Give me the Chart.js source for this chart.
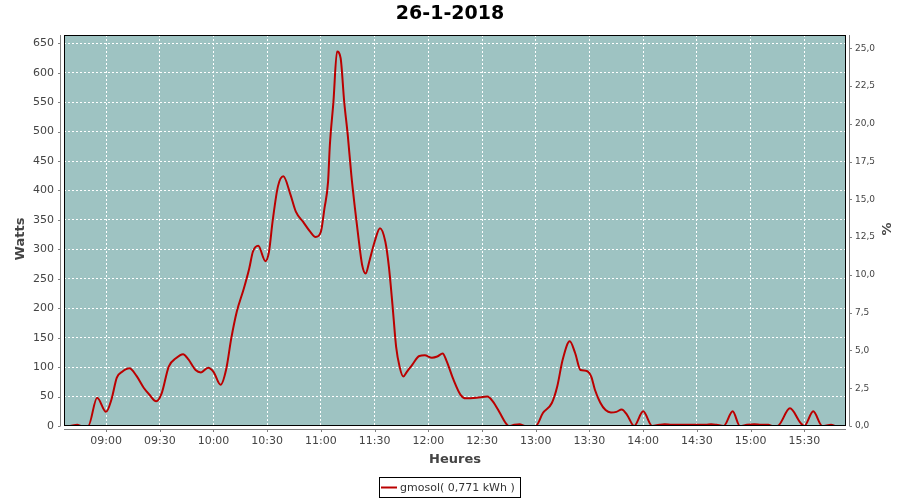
<!DOCTYPE html>
<html><head><meta charset="utf-8">
<script src="https://cdn.jsdelivr.net/npm/chart.js@4/dist/chart.umd.min.js"></script>
<style>html,body{margin:0;padding:0;background:#fff}#wrap{width:900px;height:500px}</style>
</head><body><div id="wrap"><canvas id="c" width="900" height="500"></canvas></div>
<script>
const chartTitle = '26-1-2018';
const xTitle = 'Heures';
const yTitle = 'Watts';
const y2Title = '%';
const seriesLabel = 'gmosol( 0,771 kWh )';

const times = ['08:40','08:44','08:46','08:50','08:55','09:00','09:03','09:06','09:09','09:13','09:17','09:21','09:24','09:28','09:31','09:35','09:39','09:43','09:46','09:50','09:53','09:57','10:00','10:04','10:07','10:10','10:13','10:17','10:20','10:22','10:25','10:29','10:31','10:33','10:36','10:39','10:43','10:46','10:50','10:54','10:57','11:00','11:02','11:04','11:05','11:07','11:09','11:11','11:13','11:15','11:17','11:19','11:21','11:23','11:25','11:27','11:30','11:33','11:36','11:38','11:40','11:42','11:44','11:46','11:48','11:51','11:55','11:58','12:02','12:05','12:08','12:10','12:14','12:18','12:21','12:27','12:33','12:36','12:40','12:43','12:45','12:48','12:51','12:54','13:00','13:04','13:09','13:12','13:15','13:19','13:22','13:25','13:28','13:31','13:33','13:36','13:39','13:42','13:45','13:48','13:51','13:55','14:00','14:05','14:09','14:12','14:16','14:20','14:25','14:30','14:35','14:38','14:41','14:45','14:50','14:54','14:58','15:02','15:06','15:10','15:12','15:15','15:22','15:28','15:30','15:35','15:40','15:45','15:47'];
const watts = [0,2,0,0,48,24,45,82,92,98,85,65,54,42,55,101,115,122,113,95,91,99,92,70,95,150,194,234,268,296,306,280,296,347,407,424,393,364,347,330,321,330,370,415,477,551,636,625,551,494,426,370,319,274,259,279,313,336,313,270,205,135,100,84,92,104,119,120,116,118,123,112,79,53,47,48,50,42,22,6,0,2,3,0,0,22,39,67,112,144,124,95,94,84,62,40,27,23,24,28,19,0,25,0,2,3,2,2,2,2,2,3,2,0,25,0,2,3,2,2,0,0,30,5,0,25,0,2,0];

const xTicks = ['09:00','09:30','10:00','10:30','11:00','11:30','12:00','12:30','13:00','13:30','14:00','14:30','15:00','15:30'];
const wattTicks = [0,50,100,150,200,250,300,350,400,450,500,550,600,650];
const pctTicks = [0,2.5,5,7.5,10,12.5,15,17.5,20,22.5,25];

const toMin = t => { const p = t.split(':'); return (+p[0])*60 + (+p[1]); };
const fmtMin = v => { const h = Math.floor(v/60), m = Math.round(v%60); return String(h).padStart(2,'0')+':'+String(m).padStart(2,'0'); };

const FONT = 'DejaVu Sans';
const plotPlugin = {
  id: 'plotDeco',
  beforeDraw(chart) {
    const {ctx, chartArea: a} = chart;
    ctx.save();
    ctx.fillStyle = '#9ec3c2';
    ctx.fillRect(a.left, a.top, a.right - a.left, a.bottom - a.top);
    ctx.restore();
  },
  afterDatasetsDraw(chart) {
    const {ctx, chartArea: a, scales} = chart;
    ctx.save();
    ctx.strokeStyle = '#000'; ctx.lineWidth = 1;
    ctx.strokeRect(a.left + 0.5, a.top + 0.5, a.right - a.left - 1, a.bottom - a.top - 1);
    ctx.strokeStyle = '#808080';
    ctx.beginPath();
    ctx.moveTo(a.left - 3.5, a.top); ctx.lineTo(a.left - 3.5, a.bottom);
    ctx.moveTo(a.right + 3.5, a.top); ctx.lineTo(a.right + 3.5, a.bottom);
    ctx.moveTo(a.left, a.bottom + 3.5); ctx.lineTo(a.right, a.bottom + 3.5);
    scales.y.ticks.forEach(t => { const p = Math.round(scales.y.getPixelForValue(t.value)) + 0.5; ctx.moveTo(a.left - 6, p); ctx.lineTo(a.left - 3.5, p); });
    scales.y2.ticks.forEach(t => { const p = Math.round(scales.y2.getPixelForValue(t.value)) + 0.5; ctx.moveTo(a.right + 3.5, p); ctx.lineTo(a.right + 6, p); });
    scales.x.ticks.forEach(t => { const p = Math.round(scales.x.getPixelForValue(t.value)) + 0.5; ctx.moveTo(p, a.bottom + 3.5); ctx.lineTo(p, a.bottom + 6); });
    ctx.stroke();
    ctx.restore();
  },
  afterDraw(chart) {
    const {ctx, chartArea: a} = chart;
    ctx.save();
    ctx.textAlign = 'center'; ctx.textBaseline = 'middle';
    ctx.fillStyle = '#000';
    ctx.font = 'bold 19px "' + FONT + '"';
    ctx.fillText(chartTitle, 450, 14);
    ctx.fillStyle = '#444';
    ctx.font = 'bold 13px "' + FONT + '"';
    ctx.fillText(xTitle, (a.left + a.right) / 2, 460);
    ctx.save(); ctx.translate(21, 239); ctx.rotate(-Math.PI / 2); ctx.fillText(yTitle, 0, 0); ctx.restore();
    ctx.save(); ctx.translate(888, 229); ctx.rotate(-Math.PI / 2); ctx.fillText(y2Title, 0, 0); ctx.restore();
    ctx.strokeStyle = '#000'; ctx.lineWidth = 1;
    ctx.strokeRect(379.5, 477.5, 141, 20);
    ctx.strokeStyle = '#bb0000'; ctx.lineWidth = 2;
    ctx.beginPath(); ctx.moveTo(381, 487.5); ctx.lineTo(397, 487.5); ctx.stroke();
    ctx.fillStyle = '#333'; ctx.textAlign = 'left';
    ctx.font = '11px "' + FONT + '"';
    ctx.fillText(seriesLabel, 400, 488);
    ctx.restore();
  }
};

new Chart(document.getElementById('c'), {
  type: 'line',
  data: {
    datasets: [{
      label: seriesLabel,
      data: times.map((t, i) => ({x: toMin(t), y: watts[i]})),
      borderColor: '#bb0000',
      borderWidth: 2,
      pointRadius: 0,
      fill: false,
      cubicInterpolationMode: 'monotone',
      clip: 0,
      yAxisID: 'y'
    }]
  },
  options: {
    responsive: false,
    animation: false,
    devicePixelRatio: 1,
    layout: {padding: {top: 35, left: 0, right: 0, bottom: 0}},
    plugins: {legend: {display: false}, title: {display: false}, tooltip: {enabled: false}},
    scales: {
      x: {
        type: 'linear',
        min: toMin('08:36') + 0.5,
        max: toMin('15:53') + 0.3,
        afterBuildTicks: s => { s.ticks = xTicks.map(t => ({value: toMin(t)})); },
        afterFit: s => { s.height = 74; },
        ticks: {callback: v => fmtMin(v), font: {family: FONT, size: 11}, color: '#444', padding: 9, maxRotation: 0, autoSkip: false},
        grid: {color: '#ffffff', lineWidth: 1, drawTicks: false},
        border: {display: false, dash: [2, 2]}
      },
      y: {
        position: 'left',
        min: 0,
        max: 664.1,
        afterBuildTicks: s => { s.ticks = wattTicks.map(v => ({value: v})); },
        afterFit: s => { s.width = 64; },
        ticks: {callback: v => String(v), font: {family: FONT, size: 11}, color: '#444', padding: 10},
        grid: {color: '#ffffff', lineWidth: 1, drawTicks: false},
        border: {display: false, dash: [2, 2]}
      },
      y2: {
        position: 'right',
        min: 0,
        max: 25.88,
        afterBuildTicks: s => { s.ticks = pctTicks.map(v => ({value: v})); },
        afterFit: s => { s.width = 54; },
        ticks: {callback: v => v.toFixed(1).replace('.', ','), font: {family: FONT, size: 9}, color: '#444', padding: 9},
        grid: {drawOnChartArea: false, drawTicks: false},
        border: {display: false}
      }
    }
  },
  plugins: [plotPlugin]
});
</script>
</body></html>
